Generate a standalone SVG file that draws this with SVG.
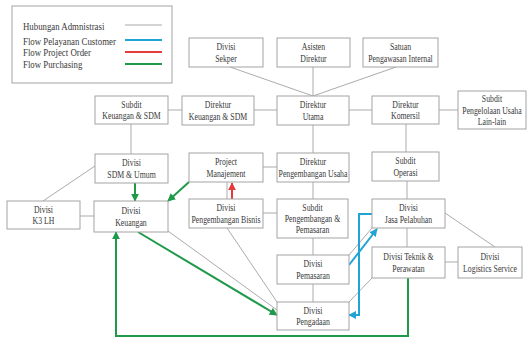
<svg xmlns="http://www.w3.org/2000/svg" width="528" height="340" viewBox="0 0 528 340">
<style>
.b rect{fill:#fff;stroke:#a3a3a3;stroke-width:1}
text{font-family:"Liberation Serif","Times New Roman",serif;font-size:9.5px;fill:#3a3a3a;text-anchor:middle}
.lg text{font-size:11px;text-anchor:start}
.c line,.c polyline{stroke:#ababab;stroke-width:1;fill:none}
.c .g{stroke:#1f9a4b;stroke-width:2;marker-end:url(#ag)}
.c .bl{stroke:#22a3d6;stroke-width:2;marker-end:url(#ab)}
.c .r{stroke:#e53b3b;stroke-width:2;marker-end:url(#ar)}
</style>
<defs>
<marker id="ag" viewBox="0 0 10 10" refX="9" refY="5" markerWidth="8" markerHeight="8" orient="auto" markerUnits="userSpaceOnUse"><path d="M0,0 L10,5 L0,10 z" fill="#1f9a4b"/></marker>
<marker id="ab" viewBox="0 0 10 10" refX="9" refY="5" markerWidth="8" markerHeight="8" orient="auto" markerUnits="userSpaceOnUse"><path d="M0,0 L10,5 L0,10 z" fill="#22a3d6"/></marker>
<marker id="ar" viewBox="0 0 10 10" refX="9" refY="5" markerWidth="8" markerHeight="8" orient="auto" markerUnits="userSpaceOnUse"><path d="M0,0 L10,5 L0,10 z" fill="#e53b3b"/></marker>
</defs>
<rect width="528" height="340" fill="#fff"/>
<g id="legend" class="lg">
<rect x="12" y="6" width="160" height="77" fill="#fff" stroke="#a3a3a3"/>
<text transform="translate(23 30) scale(.8 1)">Hubungan Admnistrasi</text>
<text transform="translate(23 44.5) scale(.8 1)">Flow Pelayanan Customer</text>
<text transform="translate(23 56) scale(.8 1)">Flow Project Order</text>
<text transform="translate(23 68) scale(.8 1)">Flow Purchasing</text>
<line x1="125" y1="25" x2="162" y2="25" stroke="#ababab" stroke-width="1"/>
<line x1="125" y1="40" x2="162" y2="40" stroke="#22a3d6" stroke-width="2"/>
<line x1="125" y1="52" x2="162" y2="52" stroke="#e53b3b" stroke-width="2"/>
<line x1="125" y1="64" x2="162" y2="64" stroke="#1f9a4b" stroke-width="2"/>
</g>
<g id="connectors" class="c">
<line x1="230" y1="67" x2="313" y2="96"/>
<line x1="313" y1="67" x2="313" y2="96"/>
<line x1="396" y1="67" x2="313" y2="96"/>
<line x1="168" y1="110" x2="182" y2="110"/>
<line x1="254" y1="110" x2="277" y2="110"/>
<line x1="349" y1="110" x2="372" y2="110"/>
<line x1="439" y1="110" x2="458" y2="110"/>
<line x1="313" y1="125" x2="313" y2="153"/>
<line x1="406" y1="124" x2="406" y2="152"/>
<line x1="131" y1="124" x2="131" y2="154"/>
<line x1="95" y1="166" x2="43" y2="201"/>
<line x1="263" y1="167" x2="277" y2="167"/>
<line x1="227" y1="182" x2="227" y2="199"/>
<line x1="313" y1="182" x2="313" y2="199"/>
<line x1="407" y1="181" x2="407" y2="199"/>
<line x1="80" y1="216" x2="94" y2="216"/>
<line x1="263" y1="213" x2="277" y2="213"/>
<line x1="313" y1="238" x2="313" y2="255"/>
<line x1="313" y1="284" x2="313" y2="302"/>
<line x1="407" y1="228" x2="407" y2="247"/>
<line x1="445" y1="213" x2="495" y2="247"/>
<line x1="445" y1="262" x2="458" y2="262"/>
<line x1="372" y1="228" x2="349" y2="255"/>
<line x1="372" y1="278" x2="349" y2="302"/>
<line x1="168" y1="231" x2="277" y2="310"/>
<line x1="227" y1="228" x2="277" y2="302"/>
<line class="r" x1="232" y1="199" x2="232" y2="183"/>
<line class="g" x1="135" y1="183" x2="135" y2="201"/>
<line class="g" x1="189" y1="182" x2="168" y2="201"/>
<line class="g" x1="138" y1="232" x2="277" y2="315"/>
<polyline class="g" points="408,278 408,336 116,336 116,232"/>
<line class="bl" x1="349" y1="265" x2="377" y2="229"/>
<polyline class="bl" points="372,214 359,214 359,315 349,315"/>
</g>
<g id="n-sekper" class="b"><rect x="189" y="38" width="74" height="29"/><text transform="translate(226 52.5) scale(.82 1)"><tspan x="0" y="-2.25">Divisi</tspan><tspan x="0" y="9.25">Sekper</tspan></text></g>
<g id="n-asisten" class="b"><rect x="277" y="38" width="73" height="29"/><text transform="translate(313.5 52.5) scale(.82 1)"><tspan x="0" y="-2.25">Asisten</tspan><tspan x="0" y="9.25">Direktur</tspan></text></g>
<g id="n-satuan" class="b"><rect x="363" y="38" width="75" height="29"/><text transform="translate(400.5 52.5) scale(.82 1)"><tspan x="0" y="-2.25">Satuan</tspan><tspan x="0" y="9.25">Pengawasan Internal</tspan></text></g>
<g id="n-subditkeu" class="b"><rect x="95" y="96" width="73" height="28"/><text transform="translate(131.5 110) scale(.82 1)"><tspan x="0" y="-2.25">Subdit</tspan><tspan x="0" y="9.25">Keuangan &amp; SDM</tspan></text></g>
<g id="n-dirkeu" class="b"><rect x="182" y="96" width="72" height="29"/><text transform="translate(218 110.5) scale(.82 1)"><tspan x="0" y="-2.25">Direktur</tspan><tspan x="0" y="9.25">Keuangan &amp; SDM</tspan></text></g>
<g id="n-dirut" class="b"><rect x="277" y="96" width="72" height="29"/><text transform="translate(313 110.5) scale(.82 1)"><tspan x="0" y="-2.25">Direktur</tspan><tspan x="0" y="9.25">Utama</tspan></text></g>
<g id="n-dirkom" class="b"><rect x="372" y="96" width="67" height="28"/><text transform="translate(405.5 110) scale(.82 1)"><tspan x="0" y="-2.25">Direktur</tspan><tspan x="0" y="9.25">Komersil</tspan></text></g>
<g id="n-lainlain" class="b"><rect x="458" y="91" width="68" height="38"/><text transform="translate(492 110) scale(.82 1)"><tspan x="0" y="-8">Subdit</tspan><tspan x="0" y="3.5">Pengelolaan Usaha</tspan><tspan x="0" y="15">Lain-lain</tspan></text></g>
<g id="n-sdmumum" class="b"><rect x="95" y="154" width="73" height="29"/><text transform="translate(131.5 168.5) scale(.82 1)"><tspan x="0" y="-2.25">Divisi</tspan><tspan x="0" y="9.25">SDM &amp; Umum</tspan></text></g>
<g id="n-pm" class="b"><rect x="189" y="153" width="74" height="29"/><text transform="translate(226 167.5) scale(.82 1)"><tspan x="0" y="-2.25">Project</tspan><tspan x="0" y="9.25">Manajement</tspan></text></g>
<g id="n-dpu" class="b"><rect x="277" y="153" width="72" height="29"/><text transform="translate(313 167.5) scale(.82 1)"><tspan x="0" y="-2.25">Direktur</tspan><tspan x="0" y="9.25">Pengembangan Usaha</tspan></text></g>
<g id="n-operasi" class="b"><rect x="372" y="152" width="67" height="29"/><text transform="translate(405.5 166.5) scale(.82 1)"><tspan x="0" y="-2.25">Subdit</tspan><tspan x="0" y="9.25">Operasi</tspan></text></g>
<g id="n-k3lh" class="b"><rect x="7" y="201" width="73" height="28"/><text transform="translate(43.5 215) scale(.82 1)"><tspan x="0" y="-2.25">Divisi</tspan><tspan x="0" y="9.25">K3 LH</tspan></text></g>
<g id="n-keuangan" class="b"><rect x="94" y="201" width="74" height="31"/><text transform="translate(131 216.5) scale(.82 1)"><tspan x="0" y="-2.25">Divisi</tspan><tspan x="0" y="9.25">Keuangan</tspan></text></g>
<g id="n-pengbisnis" class="b"><rect x="189" y="199" width="74" height="29"/><text transform="translate(226 213.5) scale(.82 1)"><tspan x="0" y="-2.25">Divisi</tspan><tspan x="0" y="9.25">Pengembangan Bisnis</tspan></text></g>
<g id="n-subditpeng" class="b"><rect x="277" y="199" width="71" height="39"/><text transform="translate(312.5 218.5) scale(.82 1)"><tspan x="0" y="-8">Subdit</tspan><tspan x="0" y="3.5">Pengembangan &amp;</tspan><tspan x="0" y="15">Pemasaran</tspan></text></g>
<g id="n-jasa" class="b"><rect x="372" y="199" width="73" height="29"/><text transform="translate(408.5 213.5) scale(.82 1)"><tspan x="0" y="-2.25">Divisi</tspan><tspan x="0" y="9.25">Jasa Pelabuhan</tspan></text></g>
<g id="n-teknik" class="b"><rect x="372" y="247" width="73" height="31"/><text transform="translate(408.5 262.5) scale(.82 1)"><tspan x="0" y="-2.25">Divisi Teknik &amp;</tspan><tspan x="0" y="9.25">Perawatan</tspan></text></g>
<g id="n-logistics" class="b"><rect x="458" y="247" width="64" height="31"/><text transform="translate(490 262.5) scale(.82 1)"><tspan x="0" y="-2.25">Divisi</tspan><tspan x="0" y="9.25">Logistics Service</tspan></text></g>
<g id="n-pemasaran" class="b"><rect x="277" y="255" width="72" height="29"/><text transform="translate(313 269.5) scale(.82 1)"><tspan x="0" y="-2.25">Divisi</tspan><tspan x="0" y="9.25">Pemasaran</tspan></text></g>
<g id="n-pengadaan" class="b"><rect x="277" y="302" width="72" height="28"/><text transform="translate(313 316) scale(.82 1)"><tspan x="0" y="-2.25">Divisi</tspan><tspan x="0" y="9.25">Pengadaan</tspan></text></g>
</svg>
